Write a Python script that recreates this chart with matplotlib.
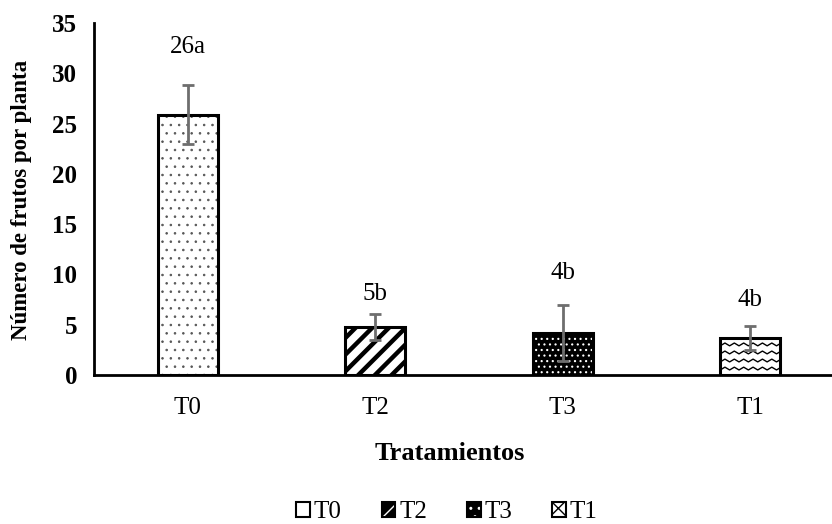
import numpy as np
import matplotlib
matplotlib.use("Agg")
import matplotlib.pyplot as plt
from matplotlib.patches import Patch
from matplotlib.lines import Line2D
from matplotlib.legend_handler import HandlerTuple

plt.rcParams['font.family'] = ['Liberation Serif', 'DejaVu Serif']

categories = ["T0", "T2", "T3", "T1"]
means = [25.9, 4.8, 4.2, 3.7]
errors = [2.95, 1.3, 2.8, 1.2]
labels = ["26a", "5b", "4b", "4b"]
label_y = [32.6, 8.1, 10.1, 7.5]

W, H = 832, 524
fig = plt.figure(figsize=(W / 100, H / 100), dpi=100)
ax = fig.add_axes([94 / W, (H - 375) / H, 750 / W, 352 / H])

x = np.arange(len(categories))
bw = 0.32
FS = 18

def set_hlw(p, lw):
    if hasattr(p, "set_hatch_linewidth"):
        p.set_hatch_linewidth(lw)

# T0: white with small dots
b0 = ax.bar(x[0], means[0], bw, facecolor="white", edgecolor="#555555",
            hatch="..", linewidth=0, zorder=2)
for p in b0: set_hlw(p, 0.6)
# T2: thick diagonal stripes
b1 = ax.bar(x[1], means[1], bw, facecolor="white", edgecolor="black",
            hatch="//", linewidth=0, zorder=2)
for p in b1: set_hlw(p, 3.2)
# T3: black with white dots
b2 = ax.bar(x[2], means[2], bw, facecolor="black", edgecolor="white",
            hatch="...", linewidth=0, zorder=2)
for p in b2: set_hlw(p, 0.8)
# T1: white with zigzag waves
b3 = ax.bar(x[3], means[3], bw, facecolor="white", edgecolor="white",
            linewidth=0, zorder=2)
p = b3[0]
x0, x1 = p.get_x(), p.get_x() + p.get_width()
per = 0.05
amp = 0.28
xs = np.arange(x0 - per, x1 + per, per / 2)
for yb in np.arange(0.5, means[3] + 1.0, 0.8):
    ys = yb + np.where((np.arange(len(xs)) % 2) == 0, 0, amp)
    ln = Line2D(xs, ys, color="black", lw=1.0, zorder=2.5)
    ax.add_line(ln)
    ln.set_clip_path(p)

# outlines
ax.bar(x, means, bw, facecolor="none", edgecolor="black", linewidth=2.2, zorder=3)

ax.errorbar(x, means, yerr=errors, fmt="none", ecolor="#6e6e6e", elinewidth=2,
            capsize=4.3, capthick=2, zorder=4)

for xi, lab, ly in zip(x, labels, label_y):
    ax.text(xi, ly, lab, ha="center", va="center", fontsize=FS)

ax.set_xlim(-0.5, 3.5)
ax.set_ylim(0, 35)
ax.set_yticks(np.arange(0, 36, 5))
ax.set_xticks(x)
ax.set_xticklabels(categories, fontsize=FS)
for t in ax.get_yticklabels():
    t.set_fontsize(FS)
    t.set_fontweight("bold")
ax.tick_params(axis="y", length=0, pad=12)
ax.tick_params(axis="x", length=0, pad=16)
for s in ["top", "right"]:
    ax.spines[s].set_visible(False)
ax.spines["left"].set_linewidth(2)
ax.spines["bottom"].set_linewidth(2)

fig.text(450 / W, 1 - 453 / H, "Tratamientos", ha="center", va="center",
         fontsize=19, fontweight="bold")
fig.text(22 / W, 1 - 200 / H, "Número de frutos por planta", ha="center",
         va="center", rotation=90, fontsize=16.5, fontweight="bold")

frame = dict(facecolor="none", edgecolor="black", linewidth=1.5)
handles = [
    Patch(facecolor="white", edgecolor="black", linewidth=1.5),
    (Patch(facecolor="black", edgecolor="white", hatch="/", linewidth=0),
     Patch(**frame)),
    (Patch(facecolor="black", edgecolor="white", hatch="..", linewidth=0),
     Patch(**frame)),
    Patch(facecolor="white", edgecolor="black", hatch="xx", linewidth=1.5),
]
fig.legend(handles, categories, loc="center", bbox_to_anchor=(447 / W, 1 - 512 / H),
           ncol=4, frameon=False, fontsize=FS, handlelength=0.55, handleheight=0.55,
           handletextpad=0.15, columnspacing=1.6, borderaxespad=0,
           handler_map={tuple: HandlerTuple(ndivide=1, pad=0)})

fig.savefig("out.png", dpi=100)
